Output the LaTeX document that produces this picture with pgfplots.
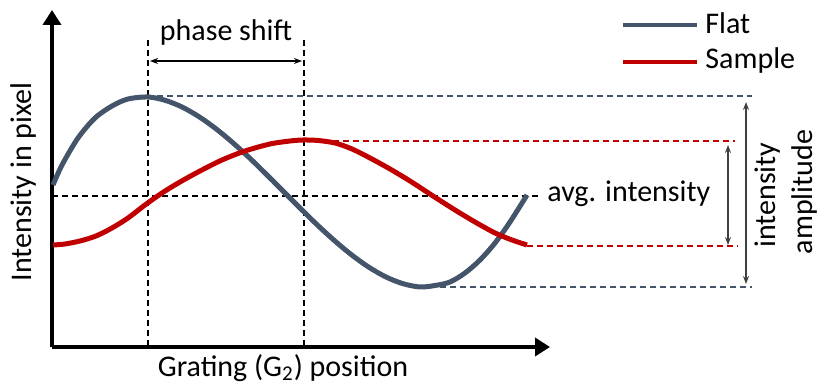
\documentclass[border=0pt]{standalone}
\usepackage{pgfplots}
\pgfplotsset{compat=1.18}
\usepackage{fontspec}
\setmainfont{Carlito}
\usetikzlibrary{arrows.meta}
\definecolor{flatc}{HTML}{44546A}
\definecolor{samplec}{HTML}{C00000}
\begin{document}
\begin{tikzpicture}[font=\fontsize{15}{18}\selectfont]
\begin{axis}[
  scale only axis,
  width=249pt, height=168.5pt,
  xmin=52, xmax=550, ymin=0, ymax=337,
  axis lines=left,
  axis line style={line width=1.8pt, -{Triangle[length=7.5pt,width=9pt]}},
  ticks=none,
  clip=false,
]
% guide lines
\draw[black, line width=0.7pt, dash pattern=on 3pt off 2pt] (axis cs:52,151) -- (axis cs:540,151);
\draw[black, line width=0.7pt, dash pattern=on 3pt off 2pt] (axis cs:148,307) -- (axis cs:148,0);
\draw[black, line width=0.7pt, dash pattern=on 3pt off 2pt] (axis cs:304,307) -- (axis cs:304,0);
\draw[flatc, line width=0.7pt, dash pattern=on 3pt off 2pt] (axis cs:147,251) -- (axis cs:752,251);
\draw[flatc, line width=0.7pt, dash pattern=on 3pt off 2pt] (axis cs:420,60) -- (axis cs:752,60);
\draw[samplec, line width=0.7pt, dash pattern=on 3pt off 2pt] (axis cs:303,206) -- (axis cs:735,206);
\draw[samplec, line width=0.7pt, dash pattern=on 3pt off 2pt] (axis cs:527,101) -- (axis cs:738,101);

% Flat
\addplot[flatc, line width=2.5pt, smooth] coordinates {
  (53,162) (62,182) (78,209) (95,229) (112,241) (128,248) (148,250)
  (165,246.7) (182,240) (199,230.3) (216,218.2) (233,204.1) (250,188.6)
  (267,172) (284,155) (301,138) (318,121.4) (335,105.9) (352,91.8)
  (369,79.7) (386,70) (403,63.3) (420,60) (435,61.5) (450,65) (465,74)
  (480,87) (495,104) (510,125) (527,152)
};
% Sample
\addplot[samplec, line width=2.5pt, smooth] coordinates {
  (53,102) (65,103) (80,106) (96,111) (112,119) (128,129) (145,142)
  (162,154) (180,165) (200,176) (222,187) (245,196) (270,203) (290,206)
  (303,207) (318,206.5) (335,204) (352,198) (370,189) (390,178) (410,166)
  (433,151) (455,137) (475,125) (495,114) (512,107) (527,102)
};

% arrows
\draw[{Stealth[length=4pt]}-{Stealth[length=4pt]}, line width=0.6pt] (axis cs:150,286) -- (axis cs:302,286);
\draw[{Stealth[length=4pt]}-{Stealth[length=4pt]}, line width=0.6pt, black!75] (axis cs:728,202) -- (axis cs:728,102);
\draw[{Stealth[length=4pt]}-{Stealth[length=4pt]}, line width=0.6pt, black!75] (axis cs:746,245) -- (axis cs:746,63);

% text
\node at (axis cs:226,314) {phase shift};
\node[anchor=west, inner sep=0pt] at (axis cs:547,153) {avg. intensity};
\node[rotate=90, inner sep=0pt] at (axis cs:768,152) {intensity};
\node[rotate=90, inner sep=0pt] at (axis cs:804,155) {amplitude};
\node[rotate=90, inner sep=0pt] at (axis cs:24,165) {Intensity in pixel};
\node[inner sep=0pt] at (axis cs:283,-21) {Grating (G\textsubscript{2}) position};

% legend
\draw[flatc, line width=2pt] (axis cs:623,322) -- (axis cs:697,322);
\draw[samplec, line width=2pt] (axis cs:623,285) -- (axis cs:697,285);
\node[anchor=west, inner sep=0pt] at (axis cs:705,324) {Flat};
\node[anchor=west, inner sep=0pt] at (axis cs:705,286) {Sample};

\coordinate (bl) at (axis cs:0,-37);
\coordinate (tr) at (axis cs:817,347);
\end{axis}
\pgfresetboundingbox
\path (bl) rectangle (tr);
\end{tikzpicture}
\end{document}
